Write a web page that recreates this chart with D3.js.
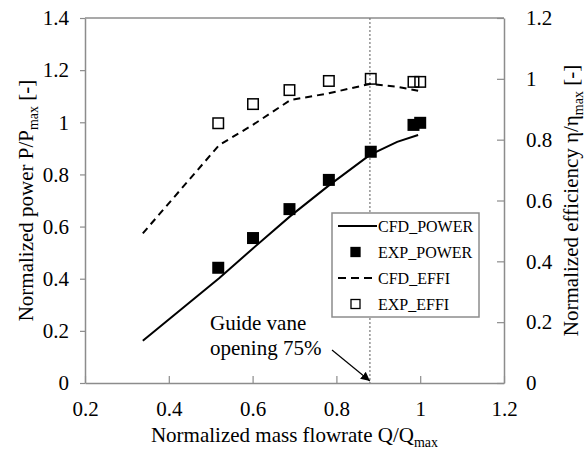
<!DOCTYPE html>
<html>
<head>
<meta charset="utf-8">
<script src="https://cdn.jsdelivr.net/npm/d3@7"></script>
<style>
  body { margin: 0; background: #fff; }
  svg text { font-family: "Liberation Serif", "Times New Roman", "DejaVu Serif", serif; fill: #000; }
</style>
</head>
<body>
<div id="chart"></div>
<script>
// data
const cfdQ = [0.338, 0.52, 0.60, 0.69, 0.78, 0.88, 0.945, 0.995];
const cfdPower = [0.162, 0.402, 0.515, 0.64, 0.755, 0.875, 0.925, 0.951];
const cfdEffi = [0.492, 0.782, 0.848, 0.93, 0.952, 0.983, 0.974, 0.961];

const expQ = [0.518, 0.601, 0.688, 0.782, 0.882, 0.984, 1.0];
const expPower = [0.442, 0.556, 0.667, 0.779, 0.887, 0.99, 0.998];
const expEffi = [0.854, 0.917, 0.963, 0.993, 1.0, 0.99, 0.99];

const xTicks = [0.2, 0.4, 0.6, 0.8, 1, 1.2];
const yLeftTicks = [0, 0.2, 0.4, 0.6, 0.8, 1, 1.2, 1.4];
const yRightTicks = [0, 0.2, 0.4, 0.6, 0.8, 1, 1.2];

const guideQ = 0.88;

const W = 587, H = 452;
const margin = {top: 18, right: 83, bottom: 69, left: 85};
const width = W - margin.left - margin.right;
const height = H - margin.top - margin.bottom;
const grey = "#8c8c8c";
const serif = "'Liberation Serif', 'Times New Roman', 'DejaVu Serif', serif";

const svg = d3.select("#chart").append("svg")
  .attr("width", W).attr("height", H)
  .attr("font-family", serif);

const g = svg.append("g")
  .attr("transform", `translate(${margin.left},${margin.top})`);

const x = d3.scaleLinear().domain([0.2, 1.2]).range([0, width]);
const yL = d3.scaleLinear().domain([0, 1.4]).range([height, 0]);
const yR = d3.scaleLinear().domain([0, 1.2]).range([height, 0]);

const fmt = d => d3.format("")(+d.toFixed(1));

// axes
const xAxis = g.append("g").attr("transform", `translate(0,${height})`)
  .call(d3.axisBottom(x).tickValues(xTicks).tickFormat(fmt).tickSizeInner(-7).tickSizeOuter(0).tickPadding(20));
const yAxisL = g.append("g")
  .call(d3.axisLeft(yL).tickValues(yLeftTicks).tickFormat(fmt).tickSizeInner(5).tickSizeOuter(0).tickPadding(11));
const yAxisR = g.append("g").attr("transform", `translate(${width},0)`)
  .call(d3.axisRight(yR).tickValues(yRightTicks).tickFormat(fmt).tickSizeInner(-7).tickSizeOuter(0).tickPadding(22));

[xAxis, yAxisL, yAxisR].forEach(a => {
  a.attr("font-family", serif).attr("font-size", 21);
  a.select(".domain").attr("stroke", grey).attr("stroke-width", 1.5);
  a.selectAll(".tick line").attr("stroke", grey).attr("stroke-width", 1.2);
  a.selectAll(".tick text").attr("fill", "#000");
});
xAxis.selectAll(".tick text").attr("dy", 0).attr("y", 33);

// top border
g.append("line").attr("x1", 0).attr("x2", width).attr("y1", 0).attr("y2", 0)
  .attr("stroke", grey).attr("stroke-width", 1.5);

// guide vane line
g.append("line")
  .attr("x1", x(guideQ)).attr("x2", x(guideQ)).attr("y1", 0).attr("y2", height)
  .attr("stroke", "#777").attr("stroke-width", 1.2).attr("stroke-dasharray", "2,2");

const line = d3.line();

g.append("path")
  .attr("d", line(cfdQ.map((q, i) => [x(q), yR(cfdEffi[i])])))
  .attr("fill", "none").attr("stroke", "#000").attr("stroke-width", 2)
  .attr("stroke-dasharray", "7,5");

g.append("path")
  .attr("d", line(cfdQ.map((q, i) => [x(q), yL(cfdPower[i])])))
  .attr("fill", "none").attr("stroke", "#000").attr("stroke-width", 2);

const s = 12;
g.selectAll(".expp").data(expQ).join("rect")
  .attr("x", (d) => x(d) - s / 2)
  .attr("y", (d, i) => yL(expPower[i]) - s / 2)
  .attr("width", s).attr("height", s).attr("fill", "#000");

g.selectAll(".expe").data(expQ).join("rect")
  .attr("x", (d) => x(d) - s / 2 + 0.75)
  .attr("y", (d, i) => yR(expEffi[i]) - s / 2 + 0.75)
  .attr("width", s - 1.5).attr("height", s - 1.5)
  .attr("fill", "none").attr("stroke", "#000").attr("stroke-width", 1.5);

// legend
const leg = svg.append("g").attr("transform", "translate(332,213)");
leg.append("rect").attr("width", 147).attr("height", 104)
  .attr("fill", "#fff").attr("stroke", grey).attr("stroke-width", 1.5);
const legItems = ["CFD_POWER", "EXP_POWER", "CFD_EFFI", "EXP_EFFI"];
legItems.forEach((name, i) => {
  const cy = 13 + i * 26;
  if (i === 0 || i === 2) {
    leg.append("line").attr("x1", 6).attr("x2", 45).attr("y1", cy).attr("y2", cy)
      .attr("stroke", "#000").attr("stroke-width", 2)
      .attr("stroke-dasharray", i === 2 ? "8,5" : null);
  } else {
    leg.append("rect").attr("x", 19).attr("y", cy - 4.5).attr("width", 9).attr("height", 9)
      .attr("fill", i === 1 ? "#000" : "#fff").attr("stroke", "#000").attr("stroke-width", 1.3);
  }
  leg.append("text").attr("x", 46).attr("y", cy + 6)
    .attr("font-size", 16).text(name);
});

// annotation
const ann = svg.append("text").attr("font-size", 21);
ann.append("tspan").attr("x", 210).attr("y", 330).text("Guide vane");
ann.append("tspan").attr("x", 210).attr("y", 355).text("opening  75%");

svg.append("defs").append("marker")
  .attr("id", "arr").attr("viewBox", "0 0 10 10").attr("refX", 10).attr("refY", 5)
  .attr("markerWidth", 9).attr("markerHeight", 9).attr("orient", "auto")
  .attr("markerUnits", "userSpaceOnUse")
  .append("path").attr("d", "M0,0 L10,5 L0,10 z").attr("fill", "#000");
svg.append("line")
  .attr("x1", 332).attr("y1", 350).attr("x2", margin.left + x(guideQ)).attr("y2", 381)
  .attr("stroke", "#000").attr("stroke-width", 1.2).attr("marker-end", "url(#arr)");

// axis titles
const xt = svg.append("text").attr("text-anchor", "middle")
  .attr("x", margin.left + width / 2).attr("y", 442).attr("font-size", 21);
xt.append("tspan").text("Normalized mass flowrate Q/Q");
xt.append("tspan").attr("dy", 5).attr("font-size", 14).text("max");

const ylt = svg.append("text").attr("text-anchor", "middle")
  .attr("transform", `translate(33,${margin.top + height / 2}) rotate(-90)`)
  .attr("font-size", 21);
ylt.append("tspan").text("Normalized power P/P");
ylt.append("tspan").attr("dy", 5).attr("font-size", 14).text("max");
ylt.append("tspan").attr("dy", -5).text(" [-]");

const yrt = svg.append("text").attr("text-anchor", "middle")
  .attr("transform", `translate(578,${margin.top + height / 2}) rotate(-90)`)
  .attr("font-size", 21);
yrt.append("tspan").text("Normalized efficiency η/η");
yrt.append("tspan").attr("dy", 5).attr("font-size", 14).text("max");
yrt.append("tspan").attr("dy", -5).text(" [-]");
</script>
</body>
</html>
